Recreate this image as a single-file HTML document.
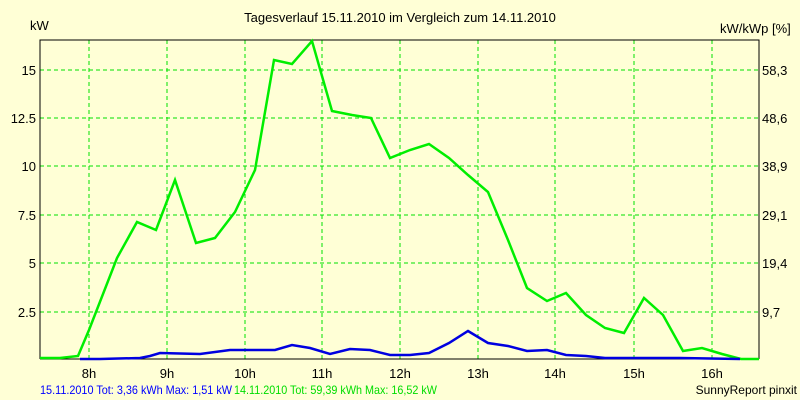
<!DOCTYPE html>
<html><head><style>body{margin:0;background:#ffffd6}svg{display:block}</style></head><body>
<svg width="800" height="400" xmlns="http://www.w3.org/2000/svg" font-family="Liberation Sans, sans-serif" font-size="13">
<rect width="800" height="400" fill="#ffffd6"/>
<text x="400" y="22" text-anchor="middle" fill="#000">Tagesverlauf 15.11.2010 im Vergleich zum 14.11.2010</text>
<text x="30" y="30" fill="#000">kW</text>
<text x="720" y="33" fill="#000">kW/kWp [%]</text>
<g stroke="#00e000" stroke-dasharray="4,3" stroke-width="1">
<line x1="40" x2="759" y1="70" y2="70"/><line x1="40" x2="759" y1="118" y2="118"/><line x1="40" x2="759" y1="166" y2="166"/><line x1="40" x2="759" y1="215" y2="215"/><line x1="40" x2="759" y1="263" y2="263"/><line x1="40" x2="759" y1="312" y2="312"/>
<line y1="40" y2="359" x1="89" x2="89"/><line y1="40" y2="359" x1="167" x2="167"/><line y1="40" y2="359" x1="245" x2="245"/><line y1="40" y2="359" x1="322" x2="322"/><line y1="40" y2="359" x1="400" x2="400"/><line y1="40" y2="359" x1="478" x2="478"/><line y1="40" y2="359" x1="555" x2="555"/><line y1="40" y2="359" x1="634" x2="634"/><line y1="40" y2="359" x1="712" x2="712"/>
</g>
<polyline fill="none" stroke="#000" stroke-width="1" points="40,359 40,40 759,40 759,359"/>
<line x1="40" x2="759" y1="359" y2="359" stroke="#000"/>
<g text-anchor="end" fill="#000">
<text x="36" y="75">15</text><text x="36" y="123">12.5</text><text x="36" y="171">10</text><text x="36" y="220">7.5</text><text x="36" y="268">5</text><text x="36" y="317">2.5</text>
</g>
<g fill="#000">
<text x="762" y="75">58,3</text><text x="762" y="123">48,6</text><text x="762" y="171">38,9</text><text x="762" y="220">29,1</text><text x="762" y="268">19,4</text><text x="762" y="317">9,7</text>
</g>
<g text-anchor="middle" fill="#000">
<text x="89" y="378">8h</text><text x="167" y="378">9h</text><text x="245" y="378">10h</text><text x="322" y="378">11h</text><text x="400" y="378">12h</text><text x="478" y="378">13h</text><text x="555" y="378">14h</text><text x="634" y="378">15h</text><text x="712" y="378">16h</text>
</g>
<polyline fill="none" stroke="#00ee00" stroke-width="2.5" points="40,358 60,358 78,356 89,330 117,258 137,222 156,230 175,180 196,243 215,238 235,212 255,170 274,60 292,64 312,41 332,111 352,115 371,118 390,158 410,150 429,144 449,158 468,175 488,192 508,240 527,288 547,301 566,293 586,315 605,328 624,333 644,298 663,315 683,351 702,348 722,354 741,359 759,359"/>
<polyline fill="none" stroke="#0000e0" stroke-width="2.5" points="80,359 100,359 140,358 150,356 160,353 200,354 230,350 275,350 292,345 310,348 330,354 350,349 370,350 390,355 410,355 429,353 449,343 468,331 488,343 508,346 527,351 547,350 566,355 586,356 605,358 680,358 740,359"/>
<text x="40" y="394" font-size="12" fill="#0000ff" textLength="192" lengthAdjust="spacingAndGlyphs">15.11.2010 Tot: 3,36 kWh Max: 1,51 kW</text>
<text x="234" y="394" font-size="12" fill="#00dd00" textLength="203" lengthAdjust="spacingAndGlyphs">14.11.2010 Tot: 59,39 kWh Max: 16,52 kW</text>
<text x="797" y="394" font-size="12" text-anchor="end" fill="#000">SunnyReport pinxit</text>
</svg>
</body></html>
